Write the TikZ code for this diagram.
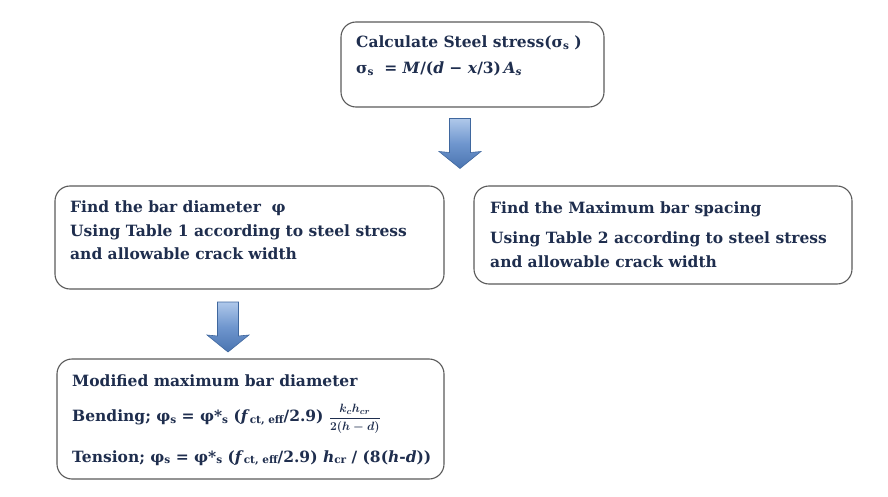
\documentclass[tikz,border=0pt]{standalone}
\usepackage[no-math]{fontspec}
\setmainfont{DejaVu Serif}
\definecolor{txt}{HTML}{1F2E4E}
\definecolor{bord}{HTML}{5A5A5A}
\definecolor{arrlight}{HTML}{AFC8EA}
\definecolor{arrmid}{HTML}{6F96CE}
\definecolor{arrdark}{HTML}{4A74B0}
\definecolor{arredge}{HTML}{3F679E}
\newcommand{\lowsub}[1]{\raisebox{-1.5pt}{\fontsize{10.5}{11}\selectfont #1}}
\begin{document}
\begin{tikzpicture}[x=1pt,y=-1pt,
  box/.style={draw=bord, line width=1.1pt, rounded corners=15pt, fill=white, inner sep=0pt},
  lbl/.style={anchor=base west, inner sep=0pt, text=txt, font=\fontsize{15.5}{18}\selectfont\bfseries\boldmath},
  blockarrow/.style={draw=arredge, line width=0.6pt, top color=arrlight, bottom color=arrdark, middle color=arrmid}
]
\useasboundingbox (0,0) rectangle (888,497);

\node[box, minimum width=263pt, minimum height=85pt] (calc) at (472.5,64.5) {};
\node[box, minimum width=389pt, minimum height=103pt] (find) at (249.5,237.5) {};
\node[box, minimum width=378pt, minimum height=98pt] (space) at (663,235) {};
\node[box, minimum width=387pt, minimum height=120pt] (modif) at (250.5,419) {};

\coordinate (arr1) at (460,143.5);
\coordinate (arr2) at (228,327);
\foreach \a in {arr1,arr2}{
  \shade[blockarrow, shift={(\a)}] (-10.5,-25) -- (10.5,-25) -- (10.5,9) -- (21,8) -- (0,25) -- (-21,8) -- (-10.5,9) -- cycle;
}

\node[lbl] (c1) at (356,48) {Calculate Steel stress(σ\lowsub{s} )};
\node[lbl] (c2) at (356,74) {σ\lowsub{s}\ \ = \textit{M}/(\textit{d} − \textit{x}/3)\,\textit{A}\lowsub{\textit{s}}};

\node[lbl] (f1) at (70,212.5) {Find the bar diameter\ \ φ};
\node[lbl] (f2) at (70,236) {Using Table 1 according\ to steel stress};
\node[lbl] (f3) at (70,259) {and allowable\ crack\ width};

\node[lbl] (s1) at (490,213) {Find the Maximum\ bar spacing};
\node[lbl] (s2) at (490,243.5) {Using Table 2 according\ to steel stress};
\node[lbl] (s3) at (490,267) {and allowable\ crack\ width};

\node[lbl] (m1) at (72,386) {Modified maximum bar diameter};
\node[lbl] (m2) at (72,421.5) {Bending; φ\lowsub{s} = φ*\lowsub{s} (\textit{f}\lowsub{ct, eff}/2.9)\ {\fontsize{12.5}{14}\selectfont$\displaystyle\frac{k_c h_{cr}}{2(h-d)}$}};
\node[lbl] (m3) at (72,462) {Tension; φ\lowsub{s} = φ*\lowsub{s} (\textit{f}\lowsub{ct, eff}/2.9) \textit{h}\lowsub{cr} / (8(\textit{h}-\textit{d}))};
\end{tikzpicture}
\end{document}
